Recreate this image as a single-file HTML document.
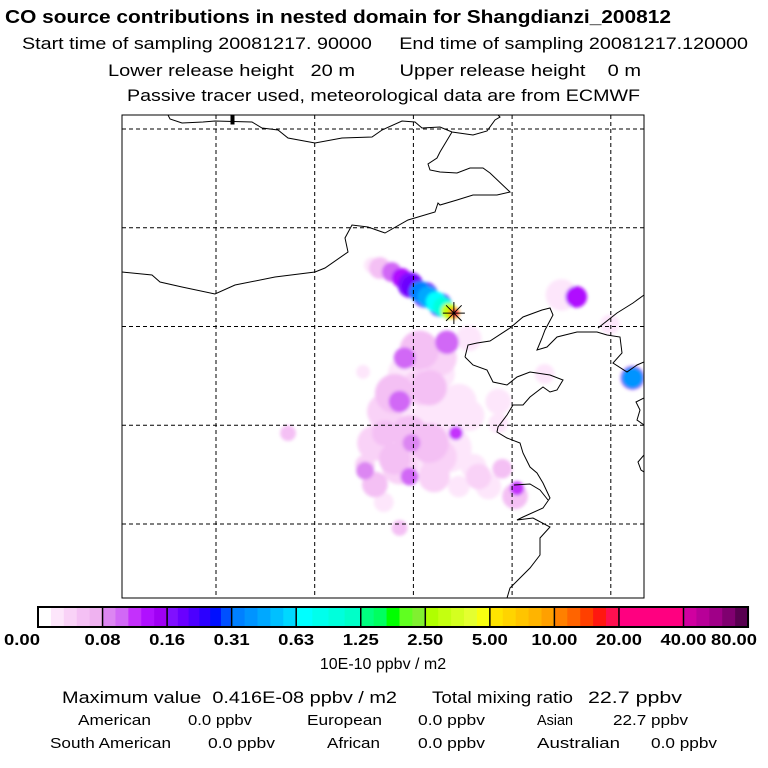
<!DOCTYPE html>
<html><head><meta charset="utf-8"><style>
html,body{margin:0;padding:0;background:#fff;}
svg{display:block;font-family:"Liberation Sans",Arial,sans-serif;}
</style></head><body>
<svg id="chart" width="768" height="768" viewBox="0 0 768 768">
<defs>
<filter id="blur" x="-20%" y="-20%" width="140%" height="140%"><feGaussianBlur stdDeviation="1.6"/></filter>
<clipPath id="mapclip"><rect x="122" y="115" width="522" height="483"/></clipPath>
</defs>
<g fill="#000">
<text x="5" y="23" font-size="18" font-weight="bold" textLength="666" lengthAdjust="spacingAndGlyphs">CO  source contributions in nested domain for Shangdianzi_200812</text>
<text x="22" y="49" font-size="17" textLength="726" lengthAdjust="spacingAndGlyphs" xml:space="preserve">Start time of sampling 20081217. 90000     End time of sampling 20081217.120000</text>
<text x="108" y="76" font-size="17" textLength="533" lengthAdjust="spacingAndGlyphs" xml:space="preserve">Lower release height   20 m        Upper release height    0 m</text>
<text x="127" y="101" font-size="17" textLength="513" lengthAdjust="spacingAndGlyphs">Passive tracer used, meteorological data are from ECMWF</text>
</g>
<g id="map">
<rect x="122" y="115" width="522" height="483" fill="#fff"/>
<g id="field" clip-path="url(#mapclip)" filter="url(#blur)"></g>
<g id="grid"></g>
<g id="coast" clip-path="url(#mapclip)" fill="none" stroke="#000" stroke-width="1"></g>
<g id="marker"></g>
<rect x="122" y="115" width="522" height="483" fill="none" stroke="#000" stroke-width="1"/>
</g>
<g id="cbar"></g>
<text x="383" y="669" font-size="16" text-anchor="middle">10E-10 ppbv / m2</text>
<g fill="#000">
<text x="62" y="703" font-size="17" textLength="335" lengthAdjust="spacingAndGlyphs" xml:space="preserve">Maximum value  0.416E-08 ppbv / m2</text>
<text x="432" y="703" font-size="17" textLength="141" lengthAdjust="spacingAndGlyphs">Total mixing ratio</text>
<text x="588" y="703" font-size="17" textLength="94" lengthAdjust="spacingAndGlyphs">22.7 ppbv</text>
<text x="78" y="725" font-size="15" textLength="73" lengthAdjust="spacingAndGlyphs">American</text>
<text x="188" y="725" font-size="15" textLength="64" lengthAdjust="spacingAndGlyphs">0.0 ppbv</text>
<text x="307" y="725" font-size="15" textLength="75" lengthAdjust="spacingAndGlyphs">European</text>
<text x="418" y="725" font-size="15" textLength="67" lengthAdjust="spacingAndGlyphs">0.0 ppbv</text>
<text x="537" y="725" font-size="15" textLength="36" lengthAdjust="spacingAndGlyphs">Asian</text>
<text x="613" y="725" font-size="15" textLength="75" lengthAdjust="spacingAndGlyphs">22.7 ppbv</text>
<text x="50" y="748" font-size="15" textLength="121" lengthAdjust="spacingAndGlyphs">South American</text>
<text x="208" y="748" font-size="15" textLength="67" lengthAdjust="spacingAndGlyphs">0.0 ppbv</text>
<text x="327" y="748" font-size="15" textLength="53" lengthAdjust="spacingAndGlyphs">African</text>
<text x="418" y="748" font-size="15" textLength="67" lengthAdjust="spacingAndGlyphs">0.0 ppbv</text>
<text x="537" y="748" font-size="15" textLength="83" lengthAdjust="spacingAndGlyphs">Australian</text>
<text x="651" y="748" font-size="15" textLength="66" lengthAdjust="spacingAndGlyphs">0.0 ppbv</text>
</g>
</svg>
<script>
var levels = [0, 0.08, 0.16, 0.31, 0.63, 1.25, 2.5, 5, 10, 20, 40, 80];
var levelLabels = ["0.00","0.08","0.16","0.31","0.63","1.25","2.50","5.00","10.00","20.00","40.00","80.00"];
var segColors = [
 ["#ffffff","#fde6fb","#f9d2f7","#f4c0f4","#efb2f0"],
 ["#dc86f2","#d168f6","#c430fc","#b010ff","#a000f4"],
 ["#8010ff","#6a00ff","#4c00ff","#2c00ff","#0010ff","#0050ff"],
 ["#0080ff","#0094ff","#00a8ff","#00c0ff","#00d8ff"],
 ["#00ffff","#00ffec","#00ffdc","#00ffc8"],
 ["#00ff80","#00ff60","#00ff00","#60ff20","#80f030"],
 ["#b0ff00","#c4ff10","#d4ff20","#e4ff30","#f8ff10"],
 ["#ffe400","#ffd400","#ffc400","#ffb400","#ffa000"],
 ["#ff8000","#ff6400","#ff4000","#ff1810","#ff1050"],
 ["#ff0080","#ff0080"],
 ["#d000a0","#b80098","#a00088","#800070","#580050"]
];
var lonTicks = [90, 100, 110, 120, 130];
var latTicks = [50, 45, 40, 35, 30];
// concentration field cells: lon, lat, value (10E-10 ppbv/m2), radius (deg)
var cellLon = [106.6,107.8,108.8,109.9,110.7,111.5,112.3,113.0,113.6,114.1,114.2,
  109.7,111.2,112.7,105.8,
  126.5,125.0,132.2,132.2,97.3,
  113.4,110.6,109.1,112.6,115.6,108.6,108.1,110.6,112.6,111.6,114.6,115.6,118.6,
  107.1,106.1,109.6,111.6,114.3,112.6,109.8,108.1,105.1,106.1,109.6,108.6,112.1,
  116.6,117.6,116.1,114.6,119.0,120.5,120.3,108.6,110.6,107.1,105.1,107.0,118.6,123.3,129.9,104.9,
  110.0,112.0,108.0,113.5];
var cellLat = [42.96,42.76,42.46,42.05,41.75,41.49,41.24,40.99,40.78,40.68,40.68,
  42.1,41.6,41.1,43.1,
  41.5,41.6,37.4,37.4,34.6,
  39.2,38.8,38.4,38.4,39.4,36.2,36.6,36.9,37.6,36.9,36.2,35.5,36.2,
  35.7,34.1,34.6,34.1,34.6,33.4,34.1,33.3,32.7,32.0,32.4,32.9,32.4,
  32.4,31.9,32.9,31.9,32.8,31.8,31.4,29.8,33.6,34.6,33.0,31.1,35.1,37.6,40.1,37.7,
  37.5,35.0,35.2,33.8];
var cellVal = [0.05,0.1,0.14,0.2,0.35,0.5,0.7,1.0,3,8,18,
  0.16,0.2,0.22,0.02,
  0.14,0.03,0.4,0.15,0.05,
  0.1,0.06,0.1,0.04,0.03,0.1,0.05,0.04,0.03,0.05,0.03,0.03,0.03,
  0.04,0.04,0.05,0.05,0.12,0.04,0.08,0.05,0.08,0.05,0.1,0.04,0.04,
  0.04,0.03,0.03,0.03,0.05,0.12,0.05,0.05,0.03,0.05,0.04,0.03,0.03,0.02,0.02,0.02,
  0.02,0.02,0.02,0.02];
var cellRad = [1.1,1.0,1.0,1.05,1.1,1.1,1.05,1.0,0.8,0.6,0.4,
  1.3,1.3,1.2,0.8,
  1.1,1.6,1.1,1.2,0.8,
  1.2,2.0,1.1,1.8,1.3,1.1,2.0,1.8,1.6,1.8,1.8,1.6,1.3,
  1.8,1.8,1.8,2.0,0.7,1.8,0.9,1.6,0.9,1.3,0.9,1.8,1.6,
  1.3,1.3,1.3,1.1,1.0,0.7,1.3,0.8,1.8,1.3,1.0,1.0,1.0,1.0,1.0,0.7,
  2.6,2.6,2.4,2.4];
var receptorLon = 114.1, receptorLat = 40.68;

var NS = "http://www.w3.org/2000/svg";
function xScale(lon){ return 216 + (lon - 90) * 9.87; }
function yScale(lat){ return 129 + (50 - lat) * 19.75; }
function rScale(d){ return d * 9.87; }
function mk(tag, attrs, parent){ var e = document.createElementNS(NS, tag); for (var k in attrs) e.setAttribute(k, attrs[k]); parent.appendChild(e); return e; }
function colorFor(v){
  for (var i = 0; i < levels.length - 1; i++) {
    if (v < levels[i+1]) {
      var c = segColors[i]; var f = (v - levels[i]) / (levels[i+1] - levels[i]);
      return c[Math.min(c.length - 1, Math.floor(f * c.length))];
    }
  }
  var l = segColors[segColors.length-1]; return l[l.length-1];
}

var field = document.getElementById('field');
var order = cellVal.map(function(v,i){return i;}).sort(function(a,b){return cellVal[a]-cellVal[b];});
order.forEach(function(i){
  var c = mk('circle', {cx: xScale(cellLon[i]), cy: yScale(cellLat[i]), r: rScale(cellRad[i]), fill: colorFor(cellVal[i])}, field);
  
  
});

var grid = document.getElementById('grid');
lonTicks.forEach(function(lon){
  var l = mk('line', {x1: xScale(lon), x2: xScale(lon), y1: 115, y2: 598, stroke: '#000', 'stroke-width': 1, 'stroke-dasharray': '4,3'}, grid);
  
  
});
latTicks.forEach(function(lat){
  var l = mk('line', {x1: 122, x2: 644, y1: yScale(lat), y2: yScale(lat), stroke: '#000', 'stroke-width': 1, 'stroke-dasharray': '4,3'}, grid);
  
  
});

var coastPaths = [
 "M168,115 L170,119 182,123 203,122 215,121 252,122 262,128 278,130 288,138 315,143 342,138 372,137 382,130 402,121 415,122 422,128 440,127 452,132 473,135 487,131 495,120 500,117 498,115",
 "M452,132 L446,142 440,152 437,158 428,164 430,170 440,172 457,173 470,168 483,168 490,173 510,192 497,195 473,195 457,200 440,205 438,203 435,212 408,220 385,233 368,227 352,225 345,238 348,252 325,268 315,272 275,277 235,285 215,294 182,287 160,282 152,275 122,272",
 "M465,357 L468,345 477,343 490,341 510,328 523,317 542,310 550,308 553,315 545,330 542,338 537,350 547,347 557,337 577,332 597,332 607,335 620,337 622,353 613,363 627,372 637,365 644,362",
 "M598,328 L617,313 633,303 644,295",
 "M465,357 L473,365 487,370 493,382 507,385 517,377 530,372 550,375 563,380 557,390 550,392 543,387 530,397 523,405 513,405 507,415 498,427 497,432 507,438 520,443 523,453 530,467 537,473 543,483 550,498 543,508 523,517 517,520 533,518 550,527 540,538 540,555 530,568 520,578 510,588 507,598",
 "M514,485 L530,484 540,490 548,500",
 "M644,398 L636,402 640,410 637,420 644,425",
 "M644,455 L638,462 641,470 644,472"
];
var coast = document.getElementById('coast');
coastPaths.forEach(function(d){
  var p = mk('path', {d: d}, coast);
  
  
});
var tick = mk('rect', {x: 231, y: 115, width: 3, height: 9, fill: '#000'}, coast);



var mg = document.getElementById('marker');
var mx = xScale(receptorLon), my = yScale(receptorLat);
for (var a = 0; a < 4; a++) {
  var ang = a * Math.PI / 4;
  var ln = mk('line', {x1: mx - 11*Math.cos(ang), y1: my - 11*Math.sin(ang), x2: mx + 11*Math.cos(ang), y2: my + 11*Math.sin(ang), stroke: '#000', 'stroke-width': 1}, mg);
  
  
}

var cb = document.getElementById('cbar');
var cbX = 38, cbW = 64.55, cbY = 607, cbH = 20;
segColors.forEach(function(cols, i){
  var sw = cbW / cols.length;
  cols.forEach(function(c, j){
    var r = mk('rect', {x: cbX + i*cbW + j*sw, y: cbY, width: sw + 0.5, height: cbH, fill: c}, cb);
    
    
  });
});
for (var i = 0; i <= segColors.length; i++) {
  var l = mk('line', {x1: cbX + i*cbW, x2: cbX + i*cbW, y1: cbY, y2: cbY + cbH, stroke: '#000', 'stroke-width': 1.5}, cb);
  
  
}
var fr = mk('rect', {x: cbX, y: cbY, width: cbW * segColors.length, height: cbH, fill: 'none', stroke: '#000', 'stroke-width': 2}, cb);


levelLabels.forEach(function(t, i){
  var x = cbX + i*cbW;
  if (i === 0) x = 22; if (i === levelLabels.length - 1) x = 734;
  var tx = mk('text', {x: x, y: 645, 'font-size': 16, 'font-weight': 'bold', 'text-anchor': 'middle', textLength: t.length > 4 ? 46 : 36, lengthAdjust: 'spacingAndGlyphs'}, cb);
  tx.textContent = t;
  
  
});
</script>
</body></html>
